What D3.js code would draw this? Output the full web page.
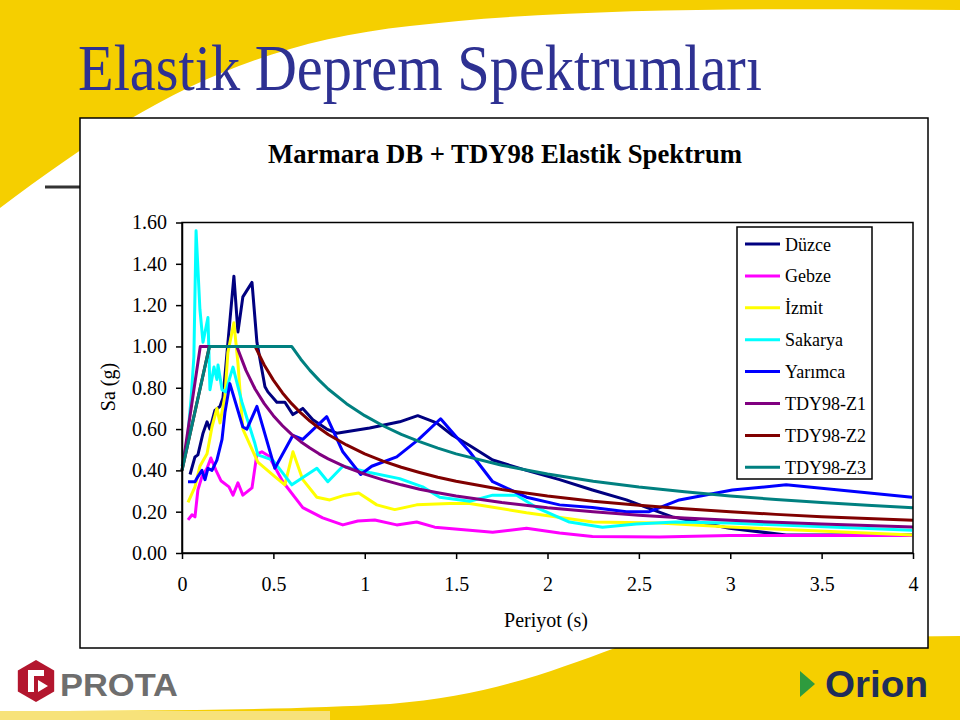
<!DOCTYPE html>
<html><head><meta charset="utf-8">
<script src="https://cdn.jsdelivr.net/npm/d3@7"></script>
<style>body{margin:0;background:#fff}svg{display:block}</style>
</head><body>
<svg id="c" width="960" height="720"></svg>
<script>
// ---------------- data ----------------
const seriesNames = ["Düzce","Gebze","İzmit","Sakarya","Yarımca","TDY98-Z1","TDY98-Z2","TDY98-Z3"];
const seriesColors = ["#000080","#FF00FF","#FFFF00","#00FFFF","#0000FF","#800080","#800000","#008080"];
const xTicks = [0,0.5,1,1.5,2,2.5,3,3.5,4];
const yTicks = [0,0.2,0.4,0.6,0.8,1.0,1.2,1.4,1.6];

// [Period (s), Sa (g)]
const duzce = [[0.044,0.38],[0.071,0.465],[0.087,0.475],[0.115,0.58],[0.137,0.635],[0.153,0.60],[0.180,0.69],[0.208,0.71],[0.224,0.75],[0.284,1.34],[0.306,1.07],[0.333,1.24],[0.383,1.31],[0.410,1.02],[0.454,0.805],[0.470,0.78],[0.519,0.73],[0.563,0.73],[0.607,0.67],[0.661,0.70],[0.716,0.645],[0.792,0.60],[0.847,0.58],[1.027,0.605],[1.191,0.635],[1.290,0.665],[1.393,0.63],[1.480,0.57],[1.574,0.52],[1.700,0.45],[1.885,0.40],[2.066,0.355],[2.246,0.305],[2.432,0.257],[2.574,0.21],[2.683,0.175],[2.995,0.12],[3.306,0.087],[3.995,0.087]];
const gebze = [[0.033,0.16],[0.055,0.185],[0.071,0.175],[0.087,0.305],[0.109,0.37],[0.137,0.41],[0.158,0.46],[0.186,0.40],[0.213,0.35],[0.257,0.32],[0.279,0.28],[0.306,0.34],[0.333,0.28],[0.383,0.315],[0.410,0.48],[0.437,0.49],[0.475,0.47],[0.552,0.345],[0.661,0.22],[0.770,0.17],[0.880,0.136],[0.962,0.155],[1.055,0.16],[1.175,0.136],[1.284,0.15],[1.383,0.125],[1.574,0.11],[1.700,0.10],[1.885,0.12],[2.066,0.097],[2.246,0.08],[2.612,0.078],[2.995,0.085],[3.995,0.085]];
const izmit = [[0.033,0.245],[0.071,0.32],[0.098,0.42],[0.137,0.48],[0.164,0.61],[0.191,0.70],[0.208,0.63],[0.235,0.76],[0.251,0.97],[0.284,1.115],[0.306,0.92],[0.333,0.60],[0.415,0.44],[0.508,0.37],[0.563,0.33],[0.607,0.49],[0.661,0.355],[0.738,0.27],[0.809,0.257],[0.891,0.28],[0.967,0.29],[1.066,0.233],[1.164,0.21],[1.284,0.233],[1.464,0.24],[1.574,0.24],[1.885,0.195],[2.246,0.15],[2.612,0.145],[2.995,0.126],[3.995,0.087]];
const sakarya = [[0.0,0.42],[0.03,0.55],[0.05,0.75],[0.065,0.95],[0.077,1.56],[0.098,1.18],[0.115,1.02],[0.142,1.14],[0.153,0.79],[0.175,0.90],[0.191,0.84],[0.197,0.91],[0.219,0.79],[0.240,0.78],[0.262,0.85],[0.279,0.90],[0.328,0.73],[0.399,0.53],[0.415,0.475],[0.497,0.45],[0.601,0.33],[0.738,0.41],[0.798,0.345],[0.880,0.42],[1.027,0.39],[1.191,0.36],[1.317,0.32],[1.410,0.27],[1.574,0.25],[1.700,0.28],[1.831,0.28],[1.940,0.22],[2.120,0.15],[2.301,0.125],[2.486,0.14],[2.700,0.15],[2.995,0.145],[3.995,0.11]];
const yarimca = [[0.033,0.345],[0.071,0.345],[0.087,0.37],[0.109,0.40],[0.126,0.355],[0.142,0.41],[0.164,0.40],[0.191,0.45],[0.219,0.55],[0.235,0.68],[0.262,0.82],[0.333,0.61],[0.355,0.60],[0.410,0.71],[0.508,0.41],[0.607,0.57],[0.661,0.55],[0.792,0.66],[0.880,0.49],[0.978,0.38],[1.038,0.42],[1.175,0.465],[1.295,0.55],[1.415,0.65],[1.503,0.56],[1.574,0.49],[1.700,0.345],[1.885,0.27],[2.066,0.233],[2.246,0.22],[2.432,0.20],[2.557,0.20],[2.721,0.257],[3.011,0.305],[3.306,0.33],[3.995,0.27]];
const tdyZ1 = [[0,0.40],[0.1,1.0],[0.3,1.0],[0.35,0.884],[0.4,0.794],[0.45,0.723],[0.5,0.665],[0.55,0.616],[0.6,0.574],[0.65,0.539],[0.7,0.508],[0.75,0.480],[0.8,0.456],[0.9,0.415],[1.0,0.382],[1.1,0.354],[1.2,0.330],[1.3,0.309],[1.4,0.292],[1.5,0.276],[1.75,0.244],[2.0,0.219],[2.25,0.1995],[2.5,0.183],[2.75,0.170],[3.0,0.158],[3.25,0.149],[3.5,0.140],[3.75,0.133],[4.0,0.126]];
const tdyZ2 = [[0,0.40],[0.15,1.0],[0.4,1.0],[0.45,0.910],[0.5,0.837],[0.55,0.775],[0.6,0.723],[0.65,0.678],[0.7,0.639],[0.75,0.605],[0.8,0.574],[0.9,0.523],[1.0,0.480],[1.1,0.445],[1.2,0.415],[1.3,0.390],[1.4,0.367],[1.5,0.347],[1.75,0.307],[2.0,0.276],[2.25,0.251],[2.5,0.231],[2.75,0.214],[3.0,0.1995],[3.25,0.187],[3.5,0.176],[3.75,0.167],[4.0,0.158]];
const tdyZ3 = [[0,0.40],[0.15,1.0],[0.6,1.0],[0.65,0.938],[0.7,0.884],[0.75,0.837],[0.8,0.794],[0.9,0.723],[1.0,0.665],[1.1,0.616],[1.2,0.574],[1.3,0.539],[1.4,0.508],[1.5,0.480],[1.75,0.425],[2.0,0.382],[2.25,0.347],[2.5,0.319],[2.75,0.296],[3.0,0.276],[3.25,0.259],[3.5,0.244],[3.75,0.231],[4.0,0.219]];
const allSeries = [duzce,gebze,izmit,sakarya,yarimca,tdyZ1,tdyZ2,tdyZ3];

// ---------------- drawing ----------------
const svg = d3.select("#c");
const serif = "'Liberation Serif','Times New Roman',serif";
const yellow = "#F5CF00";

// slide decoration
svg.append("path")
  .attr("d","M0,0 H960 V10 C760,8 560,8 410,26 C240,44 130,110 0,208 Z")
  .attr("fill", yellow);
svg.append("path")
  .attr("d","M960,636 V720 H0 V711 C150,711 290,710 390,704 C490,696 555,670 615,648 C700,640 850,637 960,636 Z")
  .attr("fill", yellow);
svg.append("rect").attr("x",0).attr("y",711).attr("width",330).attr("height",9).attr("fill","#F7E27A");
svg.append("line").attr("x1",45).attr("x2",82).attr("y1",187).attr("y2",187)
  .attr("stroke","#333").attr("stroke-width",3);

svg.append("text").attr("x",78).attr("y",90)
  .attr("font-family",serif).attr("font-size",66).attr("fill","#2E3192")
  .attr("textLength",684).attr("lengthAdjust","spacingAndGlyphs")
  .text("Elastik Deprem Spektrumları");

// chart box
svg.append("rect").attr("x",80).attr("y",118).attr("width",848).attr("height",530)
  .attr("fill","#fff").attr("stroke","#000").attr("stroke-width",1.5);

svg.append("text").attr("x",505).attr("y",163).attr("text-anchor","middle")
  .attr("font-family",serif).attr("font-size",27).attr("font-weight","bold")
  .attr("textLength",474).attr("lengthAdjust","spacingAndGlyphs")
  .text("Marmara DB + TDY98 Elastik Spektrum");

const x = d3.scaleLinear().domain([0,4]).range([182,913]);
const y = d3.scaleLinear().domain([0,1.6]).range([553,222.5]);

// series
const line = d3.line().x(d=>x(d[0])).y(d=>y(d[1])).curve(d3.curveLinear);
const plot = svg.append("g");
allSeries.forEach((s,i)=>{
  plot.append("path").datum(s).attr("d",line)
    .attr("fill","none").attr("stroke",seriesColors[i])
    .attr("stroke-width",3).attr("stroke-linejoin","round");
});

// frame
svg.append("rect").attr("x",x(0)).attr("y",y(1.6)).attr("width",x(4)-x(0)).attr("height",y(0)-y(1.6))
  .attr("fill","none").attr("stroke","#000").attr("stroke-width",1.5);

// axes
const ya = svg.append("g").attr("transform",`translate(${x(0)},0)`)
  .call(d3.axisLeft(y).tickValues(yTicks).tickFormat(d3.format(".2f")).tickSize(6).tickSizeOuter(0).tickPadding(9));
const xa = svg.append("g").attr("transform",`translate(0,${y(0)})`)
  .call(d3.axisBottom(x).tickValues(xTicks).tickFormat(d=>String(d)).tickSize(6).tickSizeOuter(0).tickPadding(18));
[ya,xa].forEach(a=>{
  a.selectAll("path").attr("stroke","#000").attr("stroke-width",1.5);
  a.selectAll("line").attr("stroke","#000").attr("stroke-width",1.5);
  a.selectAll("text").attr("font-family",serif).attr("font-size",20).attr("fill","#000");
});

svg.append("text").attr("transform","translate(115,387) rotate(-90)").attr("text-anchor","middle")
  .attr("font-family",serif).attr("font-size",20).text("Sa (g)");
svg.append("text").attr("x",546).attr("y",627).attr("text-anchor","middle")
  .attr("font-family",serif).attr("font-size",20).text("Periyot (s)");

// legend
const lg = svg.append("g");
lg.append("rect").attr("x",737).attr("y",227).attr("width",135).attr("height",252)
  .attr("fill","#fff").attr("stroke","#000").attr("stroke-width",1.5);
seriesNames.forEach((n,i)=>{
  const yy = 244 + i*31.9;
  lg.append("line").attr("x1",745).attr("x2",780).attr("y1",yy).attr("y2",yy)
    .attr("stroke",seriesColors[i]).attr("stroke-width",3);
  lg.append("text").attr("x",785).attr("y",yy+6.5)
    .attr("font-family",serif).attr("font-size",18).text(n);
});

// logos
const pg = svg.append("g");
const hex = d3.range(6).map(k=>{const a=Math.PI/3*k+Math.PI/6;return [36+21*Math.cos(a),681+21*Math.sin(a)];});
pg.append("polygon").attr("points",hex.map(p=>p.join(",")).join(" ")).attr("fill","#B3162E");
pg.append("path").attr("d","M28,670 L44,670 L44,676 L34,676 L34,692 L28,692 Z M38,680 L48,686 L38,692 Z").attr("fill","#fff");
pg.append("text").attr("x",60).attr("y",696).attr("font-family","'Liberation Sans',Arial,sans-serif")
  .attr("font-weight","bold").attr("font-size",31).attr("fill","#6E6E6E")
  .attr("textLength",118).attr("lengthAdjust","spacingAndGlyphs").text("PROTA");
svg.append("polygon").attr("points","800,671 800,697 815,684").attr("fill","#2E9B3E");
svg.append("text").attr("x",825).attr("y",697).attr("font-family","'Liberation Sans',Arial,sans-serif")
  .attr("font-weight","bold").attr("font-size",37).attr("fill","#1F2D5A")
  .attr("textLength",103).attr("lengthAdjust","spacingAndGlyphs").text("Orion");
</script>
</body></html>
